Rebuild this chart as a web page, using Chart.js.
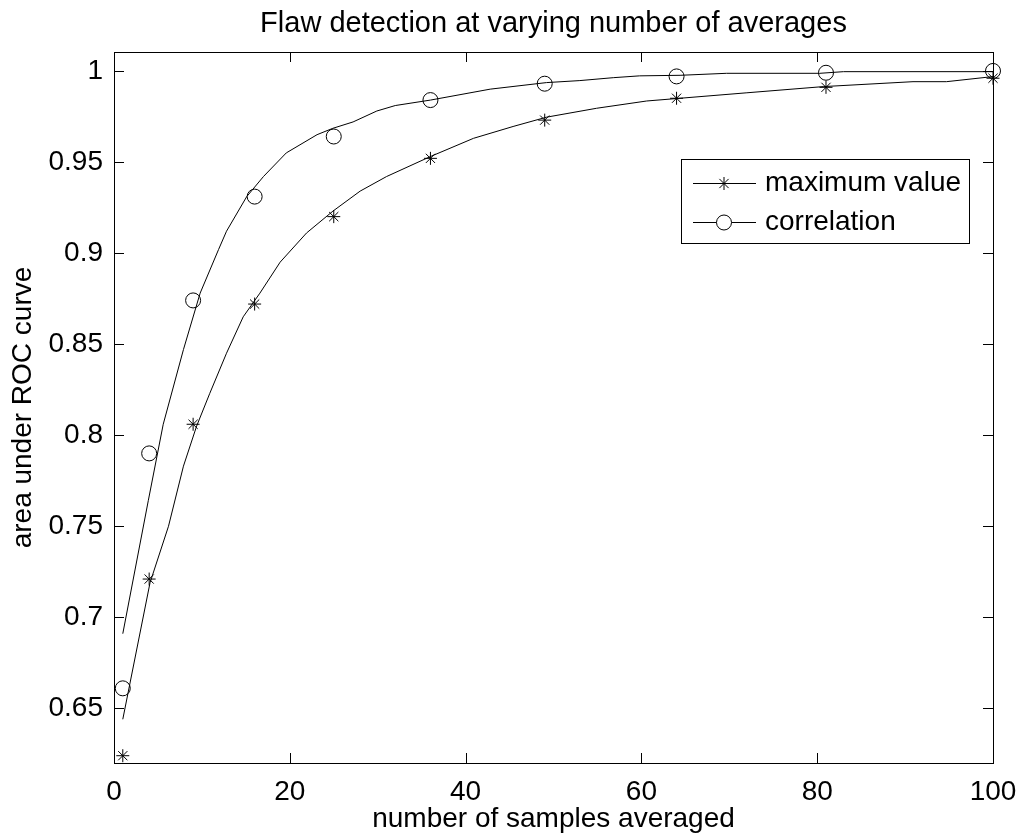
<!DOCTYPE html>
<html>
<head>
<meta charset="utf-8">
<script src="https://cdn.jsdelivr.net/npm/chart.js@4.4.0/dist/chart.umd.min.js"></script>
<style>
    body { margin: 0; background: #fff; }
    canvas { display: block; }
</style>
</head>
<body>
<canvas id="myChart" width="1021" height="836"></canvas>
<script>
// samples averaged (x) and the two measured series
const samples = [1, 4, 9, 16, 25, 36, 49, 64, 81, 100];
const maxValue = [0.624, 0.721, 0.806, 0.872, 0.920, 0.952, 0.973, 0.985, 0.991, 0.996];
const correlation = [0.661, 0.790, 0.874, 0.931, 0.964, 0.984, 0.993, 0.997, 0.999, 1.000];

// fitted curves
const maxFitX = [1, 4.1, 6.2, 7.9, 9.4, 10.9, 12.8, 14.7, 16.6, 18.9, 21.9, 24.9, 28, 31, 36, 40.9, 45.4, 49.2, 54.9, 60.6, 64.4, 72, 80.7, 90.9, 94.7, 100];
const maxFitY = [0.644, 0.719, 0.750, 0.783, 0.805, 0.823, 0.845, 0.865, 0.878, 0.895, 0.911, 0.923, 0.934, 0.942, 0.953, 0.963, 0.9695, 0.9746, 0.9795, 0.9835, 0.985, 0.988, 0.9914, 0.9941, 0.9941, 0.9969];
const corrFitX = [1, 3.9, 5.6, 7.9, 9.8, 11.9, 12.8, 15.1, 17, 19.6, 23.1, 24.9, 27.2, 29.9, 32, 36, 42.8, 49.2, 53, 56.8, 59.8, 64.4, 69.7, 80.3, 83, 100];
const corrFitY = [0.691, 0.764, 0.806, 0.847, 0.878, 0.902, 0.912, 0.931, 0.942, 0.955, 0.965, 0.9685, 0.972, 0.978, 0.981, 0.984, 0.990, 0.9936, 0.9947, 0.9963, 0.9973, 0.9976, 0.9987, 0.9987, 0.9996, 0.9996];

const xTicks = [0, 20, 40, 60, 80, 100];
const yTicks = [0.65, 0.7, 0.75, 0.8, 0.85, 0.9, 0.95, 1];
const seriesNames = ['maximum value', 'correlation'];
const chartTitle = 'Flaw detection at varying number of averages';

const FONT = '"Liberation Sans", Arial, sans-serif';
Chart.defaults.font.family = FONT;
Chart.defaults.color = '#000';

function pts(xs, ys) {
    return xs.map((x, i) => ({ x: x, y: ys[i] }));
}

// matlab style box with ticks pointing inwards, title centred over the axes
const boxPlugin = {
    id: 'box',
    afterDraw(chart) {
        const { ctx, chartArea: a, scales } = chart;
        ctx.save();
        ctx.strokeStyle = '#000';
        ctx.lineWidth = 1;
        ctx.strokeRect(Math.round(a.left) + 0.5, Math.round(a.top) + 0.5, Math.round(a.right - a.left), Math.round(a.bottom - a.top));
        ctx.beginPath();
        xTicks.forEach(v => {
            const px = Math.round(scales.x.getPixelForValue(v)) + 0.5;
            ctx.moveTo(px, a.bottom); ctx.lineTo(px, a.bottom - 10);
            ctx.moveTo(px, a.top); ctx.lineTo(px, a.top + 10);
        });
        yTicks.forEach(v => {
            const py = Math.round(scales.y.getPixelForValue(v)) + 0.5;
            ctx.moveTo(a.left, py); ctx.lineTo(a.left + 10, py);
            ctx.moveTo(a.right, py); ctx.lineTo(a.right - 10, py);
        });
        ctx.stroke();
        ctx.fillStyle = '#000';
        ctx.font = '29px ' + FONT;
        ctx.textAlign = 'center';
        ctx.textBaseline = 'alphabetic';
        ctx.fillText(chartTitle, (a.left + a.right) / 2, a.top - 20);
        ctx.restore();
    }
};

// legend box inside the plot
const legendPlugin = {
    id: 'boxLegend',
    afterDraw(chart) {
        const { ctx, chartArea: a } = chart;
        const w = 288, h = 84;
        const x0 = Math.round(a.right - 24 - w), y0 = Math.round(a.top + 107);
        ctx.save();
        ctx.fillStyle = '#fff';
        ctx.fillRect(x0, y0, w, h);
        ctx.strokeStyle = '#000';
        ctx.lineWidth = 1;
        ctx.strokeRect(x0 + 0.5, y0 + 0.5, w, h);
        const styles = [
            { pointStyle: 'star', radius: 6.5, borderWidth: 1 },
            { pointStyle: 'circle', radius: 7.5, borderWidth: 1 }
        ];
        const rows = [y0 + 24, y0 + 63];
        ctx.font = '28px ' + FONT;
        ctx.textBaseline = 'middle';
        rows.forEach((ry, i) => {
            ctx.strokeStyle = '#000';
            ctx.beginPath();
            ctx.moveTo(x0 + 12, ry + 0.5);
            ctx.lineTo(x0 + 75, ry + 0.5);
            ctx.stroke();
            ctx.fillStyle = '#fff';
            Chart.helpers.drawPoint(ctx, styles[i], x0 + 43, ry + 0.5);
            ctx.fillStyle = '#000';
            ctx.fillText(seriesNames[i], x0 + 84, ry);
        });
        ctx.restore();
    }
};

new Chart(document.getElementById('myChart'), {
    type: 'scatter',
    data: {
        datasets: [
            {
                label: seriesNames[0],
                data: pts(samples, maxValue),
                pointStyle: 'star',
                pointRadius: 6.5,
                borderColor: '#000',
                borderWidth: 1,
                showLine: false,
                clip: false,
            },
            {
                label: seriesNames[1],
                data: pts(samples, correlation),
                pointStyle: 'circle',
                pointRadius: 7.5,
                borderColor: '#000',
                backgroundColor: 'rgba(0,0,0,0)',
                borderWidth: 1,
                showLine: false,
                clip: false,
            },
            {
                label: 'max fit',
                data: pts(maxFitX, maxFitY),
                showLine: true,
                pointRadius: 0,
                borderColor: '#000',
                borderWidth: 1,
                tension: 0,
            },
            {
                label: 'corr fit',
                data: pts(corrFitX, corrFitY),
                showLine: true,
                pointRadius: 0,
                borderColor: '#000',
                borderWidth: 1,
                tension: 0,
            },
        ],
    },
    options: {
        responsive: false,
        animation: false,
        devicePixelRatio: 1,
        layout: { padding: { left: 0, right: 28, top: 52, bottom: 0 } },
        plugins: {
            legend: { display: false },
            tooltip: { enabled: false },
            title: { display: false },
        },
        scales: {
            x: {
                type: 'linear',
                min: 0,
                max: 100,
                afterBuildTicks: s => { s.ticks = xTicks.map(v => ({ value: v })); },
                afterFit: s => { s.height = 73; },
                grid: { display: false },
                border: { display: false },
                ticks: { padding: 4, maxRotation: 0, autoSkip: false, font: { size: 28 }, color: '#000' },
                title: {
                    display: true,
                    text: 'number of samples averaged',
                    font: { size: 28 },
                    color: '#000',
                    padding: { top: 5.9, bottom: 0 },
                },
            },
            y: {
                type: 'linear',
                min: 0.62,
                max: 1.0104,
                afterBuildTicks: s => { s.ticks = yTicks.map(v => ({ value: v })); },
                afterFit: s => { s.width = 114; },
                grid: { display: false },
                border: { display: false },
                ticks: {
                    padding: 3,
                    autoSkip: false,
                    font: { size: 28 },
                    color: '#000',
                    callback: v => String(+v.toFixed(2)),
                },
                title: {
                    display: true,
                    text: 'area under ROC curve',
                    font: { size: 28 },
                    color: '#000',
                    padding: { top: 6.5, bottom: 0 },
                },
            },
        },
    },
    plugins: [boxPlugin, legendPlugin],
});
</script>
</body>
</html>
